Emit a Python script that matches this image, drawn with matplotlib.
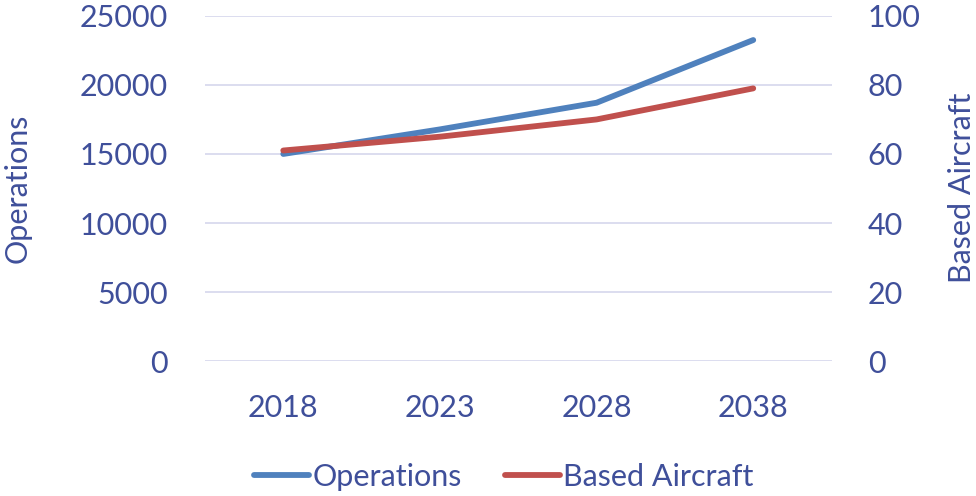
import matplotlib
matplotlib.use("Agg")
import matplotlib.pyplot as plt
from matplotlib.lines import Line2D

years = ["2018", "2023", "2028", "2038"]
operations = [15000, 16780, 18710, 23250]
based_aircraft = [61, 65, 70, 79]

TXT = "#3F4F9A"
BLUE = "#4F81BD"
RED = "#C0504D"
GRID = "#D9DAEE"
FS = 22

plt.rcParams['font.family'] = ['Lato', 'DejaVu Sans']

fig = plt.figure(figsize=(9.76, 4.96), dpi=100)
ax = fig.add_axes([0.210, 0.272, 0.642, 0.696])
ax2 = ax.twinx()

x = list(range(len(years)))
ax.plot(x, operations, color=BLUE, lw=4.2, solid_capstyle='round', zorder=3)
ax2.plot(x, based_aircraft, color=RED, lw=4.2, solid_capstyle='round', zorder=3)

ax.set_xlim(-0.5, len(years) - 0.5)
ax.set_ylim(0, 25000)
ax2.set_ylim(0, 100)
ax.set_yticks(range(0, 25001, 5000))
ax2.set_yticks(range(0, 101, 20))
ax.set_xticks(x)
ax.set_xticklabels(years)

ax.grid(axis='y', color=GRID, lw=1.3)
ax.set_axisbelow(True)
for a in (ax, ax2):
    for s in a.spines.values():
        s.set_visible(False)
    a.tick_params(length=0, labelsize=FS, labelcolor=TXT)
ax.tick_params(axis='y', pad=27)
ax2.tick_params(axis='y', pad=26)
ax.tick_params(axis='x', pad=24)

ax.set_ylabel("Operations", fontsize=FS, color=TXT)
ax2.set_ylabel("Based Aircraft", fontsize=FS, color=TXT)
ax.yaxis.set_label_coords(18 / 976, 0.5, transform=fig.transFigure)
ax2.yaxis.set_label_coords(962 / 976, 0.5, transform=fig.transFigure)
ax.yaxis.label.set_va('center')
ax2.yaxis.label.set_va('center')
ax.yaxis.label.set_y((496 - 188) / 496)
ax2.yaxis.label.set_y((496 - 188) / 496)

handles = [Line2D([], [], color=BLUE, lw=4.2, solid_capstyle='round'),
           Line2D([], [], color=RED, lw=4.2, solid_capstyle='round')]
leg = fig.legend(handles, ["Operations", "Based Aircraft"], loc='center',
                 bbox_to_anchor=(0.516, 0.038), ncol=2, frameon=False,
                 fontsize=FS, handlelength=1.8, handletextpad=0.1,
                 columnspacing=1.4)
for t in leg.get_texts():
    t.set_color(TXT)

fig.savefig("out.png", dpi=100)
